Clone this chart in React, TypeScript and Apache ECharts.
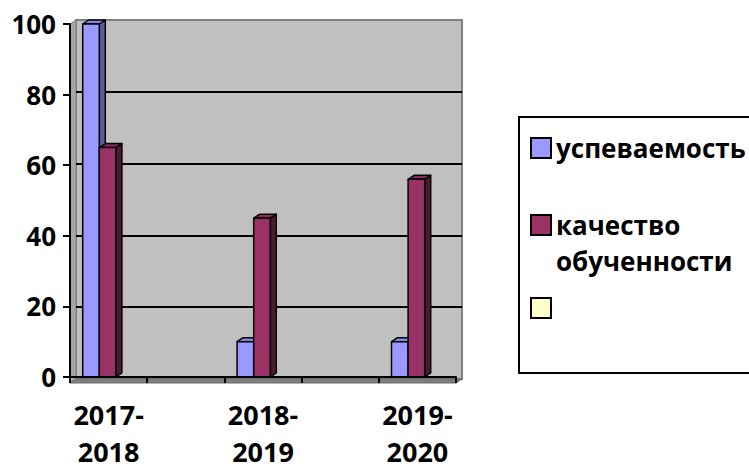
import React, { useEffect, useRef } from "react";
import * as echarts from "echarts";

const categories = ["2017-\n2018", "", "2018-\n2019", "", "2019-\n2020"];
const seriesNames = ["успеваемость", "качество\nобученности", " "];
const uspevaemost = [100, null, 10, null, 10];
const kachestvo = [65, null, 45, null, 56];
const third: (number | null)[] = [null, null, null, null, null];
const yTicks = { min: 0, max: 100, interval: 20 };

const FONT = "Open Sans";
const DX = 6;
const DY = 4;

const colors = [
  { front: "#9999FF", top: "#8585E6", side: "#5C5C99" },
  { front: "#993366", top: "#86295A", side: "#4D1A33" },
  { front: "#FFFFCC", top: "#E6E6B8", side: "#99997A" },
];

function makeRender(idx: number) {
  return (params: any, api: any) => {
    const val = api.value(1);
    if (val == null || isNaN(val)) return null;
    const cat = api.value(0);
    const base = api.coord([cat, 0]);
    const top = api.coord([cat, val]);
    const cw = api.size([1, 0])[0];
    const bw = cw * 0.215;
    const left = base[0] - 1.5 * bw + idx * bw - 1;
    const ty = top[1];
    const by = base[1];
    const c = colors[idx];
    const stroke = { stroke: "#000", lineWidth: 1.5, lineJoin: "round" };
    return {
      type: "group",
      children: [
        {
          type: "polygon",
          shape: {
            points: [
              [left + bw, ty],
              [left + bw + DX, ty - DY],
              [left + bw + DX, by - DY],
              [left + bw, by],
            ],
          },
          style: { fill: c.side, ...stroke },
        },
        {
          type: "polygon",
          shape: {
            points: [
              [left, ty],
              [left + DX, ty - DY],
              [left + bw + DX, ty - DY],
              [left + bw, ty],
            ],
          },
          style: { fill: c.top, ...stroke },
        },
        {
          type: "rect",
          shape: { x: left, y: ty, width: bw, height: by - ty },
          style: { fill: c.front, ...stroke },
        },
      ],
    };
  };
}

export default function App() {
  const ref = useRef<HTMLDivElement>(null);
  useEffect(() => {
    if (!ref.current) return;
    const chart = echarts.init(ref.current, undefined, { renderer: "svg" });
    const seriesData = [uspevaemost, kachestvo, third];
    const L = 36;
    chart.setOption({
      animation: false,
      backgroundColor: "#fff",
      grid: [
        { left: 70, right: 293, top: 24, bottom: 87, show: false },
        {
          left: 76,
          right: 287,
          top: 20,
          bottom: 91,
          show: true,
          backgroundColor: "#C0C0C0",
          borderColor: "#808080",
          borderWidth: 2,
        },
      ],
      graphic: [
        {
          type: "polygon",
          z: 0,
          shape: { points: [[70, 24], [76, 20], [76, 379], [70, 383]] },
          style: { fill: "#A6A6A6", stroke: "#808080", lineWidth: 1 },
        },
        {
          type: "polygon",
          z: 0,
          shape: { points: [[70, 383], [456, 383], [462, 379], [76, 379]] },
          style: { fill: "#808080", stroke: "#6a6a6a", lineWidth: 1 },
        },
      ],
      xAxis: [
        {
          type: "category",
          gridIndex: 0,
          data: categories,
          boundaryGap: true,
          axisLine: { show: true, lineStyle: { color: "#000", width: 2 } },
          axisTick: { show: true, interval: 0, length: 6, lineStyle: { color: "#000", width: 2 } },
          axisLabel: {
            interval: 0,
            fontFamily: FONT,
            fontWeight: "bold",
            fontSize: 27,
            lineHeight: 37,
            color: "#000",
            margin: 19,
          },
          splitLine: { show: false },
          z: 5,
        },
        {
          type: "category",
          gridIndex: 1,
          data: categories,
          show: false,
        },
      ],
      yAxis: [
        {
          type: "value",
          gridIndex: 0,
          min: yTicks.min,
          max: yTicks.max,
          interval: yTicks.interval,
          axisLine: { show: true, lineStyle: { color: "#000", width: 2 } },
          axisTick: { show: true, length: 7, lineStyle: { color: "#000", width: 2 } },
          axisLabel: {
            fontFamily: FONT,
            fontWeight: "bold",
            fontSize: 26,
            color: "#000",
            margin: 14,
          },
          splitLine: { show: false },
          z: 5,
        },
        {
          type: "value",
          gridIndex: 1,
          min: yTicks.min,
          max: yTicks.max,
          interval: yTicks.interval,
          axisLine: { show: false },
          axisTick: { show: false },
          axisLabel: { show: false },
          splitLine: {
            show: true,
            showMinLine: false,
            showMaxLine: false,
            lineStyle: { color: "#000", width: 2 },
          },
        },
      ],
      legend: {
        orient: "vertical",
        left: 519,
        top: 117,
        padding: [13, 60, 41, 11],
        itemGap: 5,
        itemWidth: 20,
        itemHeight: 20,
        icon: "rect",
        borderColor: "#000",
        borderWidth: 2,
        itemStyle: { borderColor: "#000", borderWidth: 2 },
        formatter: (name: string) => (name === seriesNames[1] ? "\n" + name : name),
        textStyle: {
          fontFamily: FONT,
          fontWeight: "bold",
          fontSize: 26,
          lineHeight: L,
          color: "#000",
        },
        data: [
          { name: seriesNames[0] },
          { name: seriesNames[1] },
          { name: seriesNames[2], textStyle: { padding: [12, 0, 0, 0] } },
        ],
      },
      series: seriesData.map((d, i) => ({
        type: "custom",
        name: seriesNames[i],
        xAxisIndex: 0,
        yAxisIndex: 0,
        z: 3,
        itemStyle: { color: colors[i].front },
        renderItem: makeRender(i),
        encode: { x: 0, y: 1 },
        data: d.map((v, j) => [j, v]),
      })),
    });
    return () => chart.dispose();
  }, []);
  return (
    <div
      ref={ref}
      style={{ position: "fixed", left: 0, top: 0, width: 749, height: 470 }}
    />
  );
}
